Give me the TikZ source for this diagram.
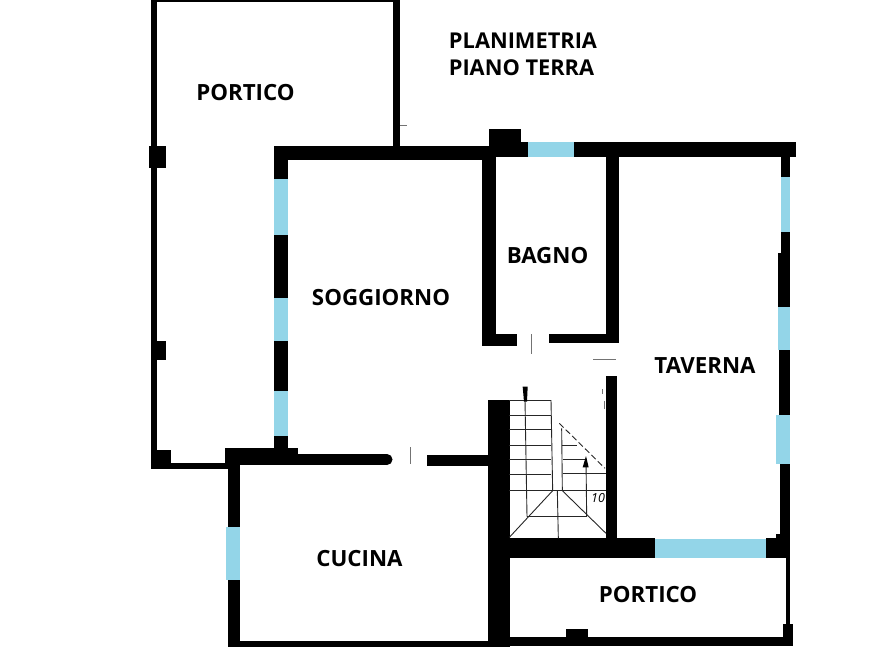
\documentclass[tikz,border=0pt]{standalone}
\usepackage{fontspec}
\setmainfont{Open Sans}
\definecolor{glass}{HTML}{93D5E8}
\newcommand{\wl}[4]{\fill[wall] (#1,#2) rectangle (#3,#4);}
\newcommand{\gl}[4]{\fill[pane] (#1,#2) rectangle (#3,#4);}
\tikzset{
  wall/.style={fill=black},
  pane/.style={fill=glass},
  room/.style={font=\bfseries\fontsize{22.3}{26}\selectfont,text=black,inner sep=0pt},
  plan/.style={font=\bfseries\fontsize{21.8}{26}\selectfont,text=black,inner sep=0pt},
  stairline/.style={draw=black!85,line width=0.9pt},
  hair/.style={draw=black!55,line width=0.9pt}
}
\begin{document}
\begin{tikzpicture}[x=1pt,y=-1pt]
\useasboundingbox (0,0) rectangle (893,670);
% upper portico
\wl{152}{0}{399}{2}
\wl{151}{0}{157}{469}
\wl{149}{146}{166}{168}
\wl{155}{341}{166}{360}
\wl{152}{450}{171}{464}
\wl{153}{463}{228}{469}
\wl{393}{0}{400}{147}
\draw[hair] (400,125) -- (407,125);
% soggiorno left wall
\wl{274}{146}{288}{448}
\gl{274}{179}{288}{235}
\gl{274}{298}{288}{341}
\gl{274}{391}{288}{436}
% top wall
\wl{274}{146}{490}{160}
\wl{489}{129}{521}{147}
\wl{489}{142}{528}{157}
\gl{528}{142}{574}{157}
\wl{574}{142}{796}{157}
% bagno
\wl{482}{146}{496}{346}
\wl{606}{157}{619}{343}
\wl{482}{334}{517}{346}
\wl{549}{334}{619}{343}
\draw[hair] (531,334) -- (531,354);
\draw[hair] (593,359) -- (616,359);
% divider soggiorno / cucina
\wl{225}{448}{298}{465}
\wl{225}{454}{387}{465}
\fill[wall] (387,459.5) circle (5.5);
\draw[hair] (410,447) -- (410,464);
\wl{427}{455}{490}{466}
% cucina
\wl{228}{465}{240}{647}
\gl{226}{527}{240}{580}
\wl{228}{641}{495}{647}
% stair walls
\wl{488}{400}{510}{647}
\wl{606}{376}{617}{540}
\wl{488}{538}{655}{558}
\gl{655}{539}{766}{558}
\wl{766}{538}{790}{558}
\wl{776}{534}{790}{540}
% right wall
\wl{781}{157}{790}{253}
\wl{778}{253}{790}{350}
\wl{779}{350}{790}{415}
\wl{780}{464}{790}{535}
\gl{781}{177}{790}{232}
\gl{778}{307}{790}{350}
\gl{776}{415}{790}{464}
% lower portico
\wl{786}{558}{790}{640}
\wl{783}{624}{793}{646}
\wl{489}{637}{793}{646}
\wl{566}{629}{588}{638}
% stairs
\begin{scope}[shift={(480,330)},scale=1/3]
  \foreach \yy in {210,255,298,345,388,432}
    \draw[stairline] (88,\yy) -- (214,\yy);
  \draw[stairline] (88,482) -- (378,482);
  \draw[stairline] (213,210) -- (218,482);
  \draw[stairline] (135,210) -- (141,560);
  \draw[stairline] (218,482) -- (88,622);
  \draw[stairline] (247,482) -- (378,610);
  \draw[stairline] (141,560) -- (320,560);
  \draw[stairline] (232,482) -- (235,625);
  \draw[stairline] (245,295) -- (247,482);
  \draw[stairline] (245,345) -- (290,345);
  \draw[stairline] (248,387) -- (320,387);
  \draw[stairline] (248,430) -- (378,430);
  \draw[stairline] (318,385) -- (320,560);
  \fill[black] (128,170) -- (143,170) -- (141,215) -- (132,215) -- cycle;
  \fill[black] (318,378) -- (326,412) -- (308,412) -- cycle;
  \draw[stairline,dash pattern=on 6pt off 3pt] (238,280) -- (375,415);
  \node (stepnum) at (354,503) {\fontsize{12.5}{14}\selectfont\itshape 10};
  \draw[hair] (372,212) -- (372,238);
  \draw[hair] (368,178) -- (368,192);
\end{scope}
% labels
\node[room] (porticoA) at (245.5,93) {PORTICO};
\node[plan] (planA) at (523,41) {PLANIMETRIA};
\node[plan] (planB) at (521.5,68) {PIANO TERRA};
\node[room] (soggiorno) at (381,298) {SOGGIORNO};
\node[room] (bagno) at (547.5,256) {BAGNO};
\node[room] (taverna) at (705,365) {TAVERNA};
\node[room] (cucina) at (359.5,559) {CUCINA};
\node[room] (porticoB) at (648,595) {PORTICO};
\end{tikzpicture}
\end{document}
